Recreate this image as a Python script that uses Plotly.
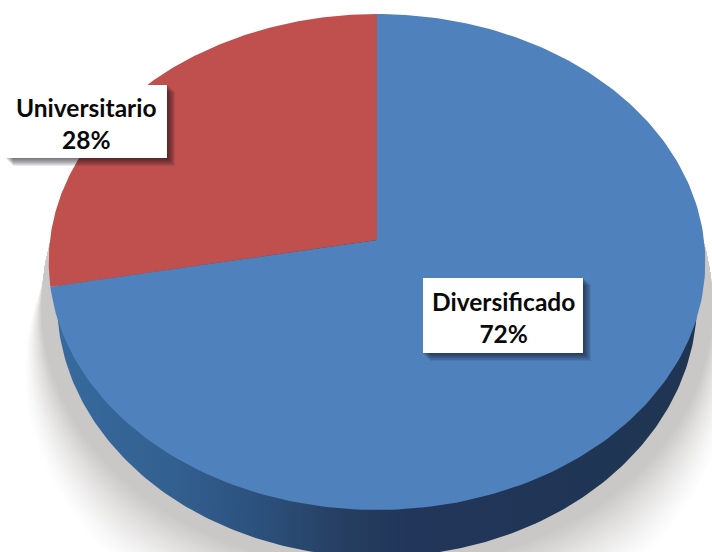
import numpy as np
import plotly.graph_objects as go

# Education level shares
categories = ["Diversificado", "Universitario"]
shares = [72, 28]
slice_colors = ["#4F81BD", "#C0504D"]

WIDTH, HEIGHT = 712, 552
APEX_X, APEX_Y = 377, 240
DISC_A, DISC_B, TILT = 246, 327, 0.0887
WALL = dict(cx=377, cy=302, rx=320, ry=255)


def tilt_project(theta):
    """Map clockwise-from-top angles on a unit disc onto the tilted disc."""
    u, v = np.sin(theta), np.cos(theta)
    w = 1 + TILT * v
    return APEX_X + DISC_B * u / w, APEX_Y - DISC_A * v / w


def wedge(start_share, end_share):
    theta = np.linspace(start_share, end_share, 240) * 2 * np.pi / 100
    x, y = tilt_project(theta)
    return np.r_[APEX_X, x, APEX_X], np.r_[APEX_Y, y, APEX_Y]


def shadow_outline(spread):
    """Drop shadow ring: widens further down, so the upper end stays crisp."""
    t = np.linspace(0, 2 * np.pi, 360)
    ex, ey = np.cos(t), np.sin(t)
    x = 377 + 335 * ex
    y = 300 + 262 * ey
    grow = spread * np.clip((y - 285) / 210, 0, 1)
    return x + ex * grow, y + ey * grow


fig = go.Figure()

# Soft grey shadow under the disc: opaque rings stepping from white to grey
rings = 40
for i, spread in enumerate(np.linspace(78, 8, rings)):
    f = i / (rings - 1)
    fade = f ** 1.3
    r, g, b = (round(255 - (255 - c) * fade) for c in (202, 200, 198))
    sx, sy = shadow_outline(spread)
    fig.add_trace(go.Scatter(x=sx, y=sy, mode="lines", line=dict(width=0),
                             fill="toself", fillcolor=f"rgb({r},{g},{b})",
                             hoverinfo="skip", showlegend=False))

# Side wall of the disc
t = np.linspace(0, 2 * np.pi, 360)
fig.add_trace(go.Scatter(
    x=WALL["cx"] + WALL["rx"] * np.cos(t),
    y=WALL["cy"] + WALL["ry"] * np.sin(t),
    mode="lines", line=dict(width=0), fill="toself",
    fillgradient=dict(type="horizontal", colorscale=[
        [0.0, "#386A9F"], [0.18, "#326090"], [0.32, "#2C507C"],
        [0.45, "#263E60"], [0.55, "#21365A"], [1.0, "#1F3552"]]),
    hoverinfo="skip", showlegend=False))

# Top surface: one wedge per category, clockwise from twelve o'clock
cumulative = np.cumsum([0] + shares)
for name, share, start, color in zip(categories, shares, cumulative, slice_colors):
    wx, wy = wedge(start, start + share)
    fig.add_trace(go.Scatter(x=wx, y=wy, mode="lines", line=dict(width=0),
                             fill="toself", fillcolor=color, name=name,
                             text=f"{name} {share}%", hoverinfo="text",
                             showlegend=False))

# Label boxes with a soft offset shadow
boxes = {"Diversificado": (423, 278, 583, 353), "Universitario": (6, 85, 167, 158)}
shapes, annotations = [], []
for name, share in zip(categories, shares):
    x0, y0, x1, y1 = boxes[name]
    for off in range(8, 0, -1):
        shapes.append(dict(type="rect", layer="above", xref="x", yref="y",
                           x0=x0 + off - 1, y0=y0 + off - 1, x1=x1 + off, y1=y1 + off,
                           line=dict(width=0), fillcolor="rgba(10,15,25,0.09)"))
    shapes.append(dict(type="rect", layer="above", xref="x", yref="y",
                       x0=x0, y0=y0, x1=x1, y1=y1,
                       line=dict(width=0), fillcolor="white"))
    annotations.append(dict(x=(x0 + x1) / 2, y=(y0 + y1) / 2 + 2, xref="x", yref="y",
                            text=f"<b>{name}<br>{share}%</b>", showarrow=False,
                            align="center", font=dict(family="Lato", size=24.5, color="#0A0A0A")))

fig.update_layout(
    width=WIDTH, height=HEIGHT, margin=dict(l=0, r=0, t=0, b=0),
    paper_bgcolor="white", plot_bgcolor="white",
    xaxis=dict(range=[0, WIDTH], visible=False),
    yaxis=dict(range=[HEIGHT, 0], visible=False),
    shapes=shapes, annotations=annotations, showlegend=False,
)

fig.write_html("out.html", config={"displayModeBar": False})
